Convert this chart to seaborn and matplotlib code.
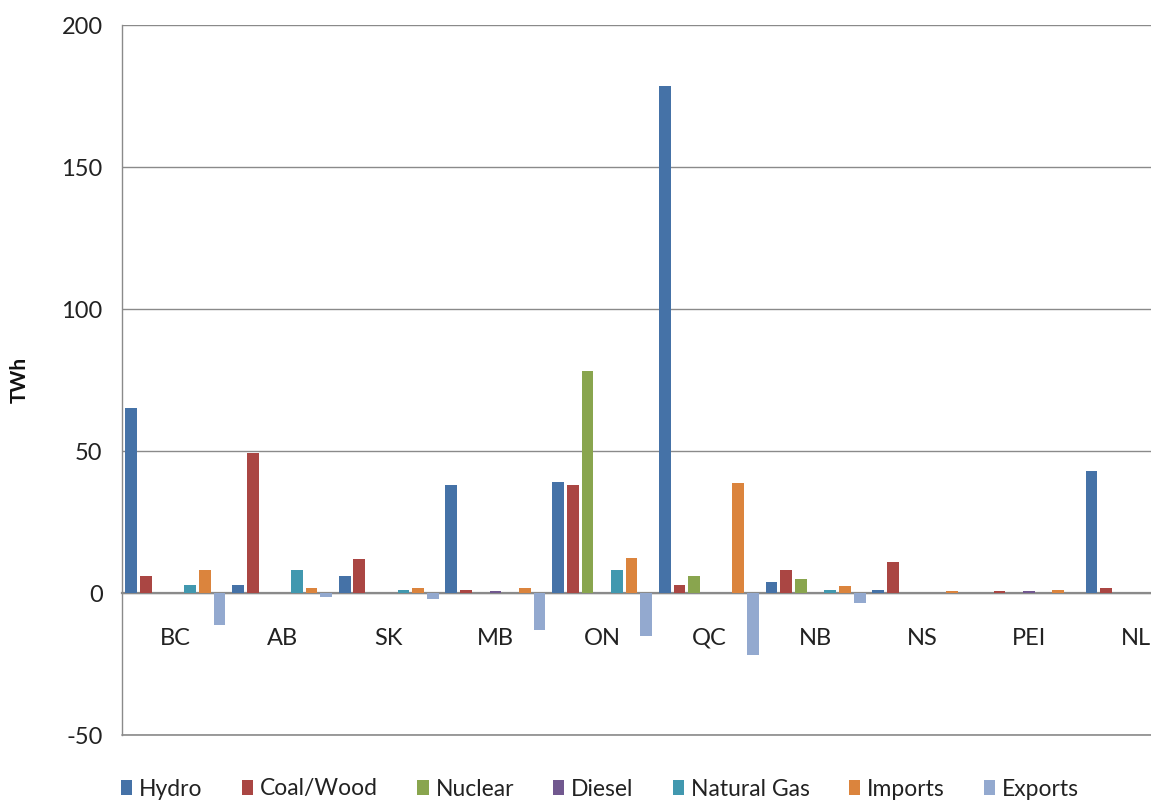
import matplotlib
matplotlib.use("Agg")
import matplotlib.pyplot as plt
import seaborn as sns
import pandas as pd
from matplotlib.patches import Patch

provinces = ["BC", "AB", "SK", "MB", "ON", "QC", "NB", "NS", "PEI", "NL"]
sources = ["Hydro", "Coal/Wood", "Nuclear", "Diesel", "Natural Gas", "Imports", "Exports"]

hydro = [65, 2.7, 6, 38, 39, 178.5, 4, 1, 0, 43]
coal_wood = [6, 49.3, 12, 1, 38.2, 2.9, 8, 10.9, 0.8, 1.8]
nuclear = [0, 0, 0, 0, 78.3, 6, 5, 0, 0, 0]
diesel = [0, 0, 0, 0.7, 0, 0, 0, 0, 0.7, 0]
natural_gas = [2.8, 8.1, 0.9, 0, 8.2, 0, 1, 0, 0, 0]
imports = [8.1, 1.8, 1.7, 1.8, 12.4, 38.9, 2.4, 0.8, 1.2, 0]
exports = [-11.2, -1.4, -2.2, -12.9, -15.2, -22, -3.6, 0, 0, 0]

series = [hydro, coal_wood, nuclear, diesel, natural_gas, imports, exports]
colors = ["#4572A7", "#AA4643", "#89A54E", "#71588F", "#4198AF", "#DB843D", "#93A9CF"]

rows = []
for src, vals in zip(sources, series):
    for prov, v in zip(provinces, vals):
        rows.append({"Province": prov, "Source": src, "TWh": v})
df = pd.DataFrame(rows)

sns.set_style("white")
plt.rcParams["font.family"] = ["Lato", "DejaVu Sans"]

fig = plt.figure(figsize=(11.51, 8.0), dpi=100)
# plot area runs past the right edge of the canvas
ax = fig.add_axes([122 / 1151, 1 - 735 / 800, 1067 / 1151, 710 / 800])

sns.barplot(data=df, x="Province", y="TWh", hue="Source", order=provinces,
            hue_order=sources, palette=colors, saturation=1, width=0.965, gap=0.2,
            edgecolor="none", legend=False, ax=ax)
for bar in ax.patches:
    bar.set_zorder(2)

ax.set_ylim(-50, 200)
ax.set_xlim(-0.5, len(provinces) - 0.5)
ax.set_yticks([-50, 0, 50, 100, 150, 200])
ax.set_yticklabels(["-50", "0", "50", "100", "150", "200"], fontsize=17)
ax.yaxis.grid(True, color="#8a8a8a", linewidth=1.0)
ax.axhline(-50, color="#8a8a8a", linewidth=1.2, clip_on=False, zorder=0.5)
ax.set_axisbelow(True)

for s in ["top", "right"]:
    ax.spines[s].set_visible(False)
ax.spines["left"].set_color("#8a8a8a")
ax.spines["left"].set_linewidth(1.0)
ax.spines["bottom"].set_position(("data", 0))
ax.spines["bottom"].set_color("#8a8a8a")
ax.spines["bottom"].set_linewidth(1.6)
ax.spines["bottom"].set_zorder(1.5)

ax.tick_params(axis="y", direction="out", length=5, color="#8a8a8a", pad=9,
               labelcolor="#222222")
ax.tick_params(axis="x", length=0, pad=25, labelsize=17, labelcolor="#222222")
ax.set_xlabel("")
ax.set_ylabel("TWh", fontsize=15, fontweight="bold", color="#111111")
ax.yaxis.set_label_coords(-0.086, 0.5)

handles = [Patch(facecolor=c, edgecolor="none") for c in colors]
fig.legend(handles, sources, loc="center", bbox_to_anchor=(600 / 1151, 1 - 789 / 800),
           ncol=7, frameon=False, fontsize=16.5, handlelength=0.5, handleheight=0.6,
           handletextpad=0.3, columnspacing=1.7, labelcolor="#222222")

fig.savefig("out.png", dpi=100)
